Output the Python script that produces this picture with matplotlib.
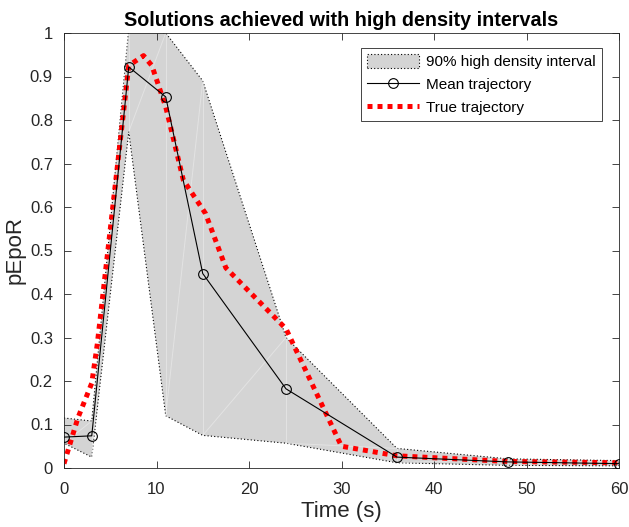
import matplotlib
matplotlib.use("Agg")
import matplotlib.pyplot as plt
from matplotlib.patches import Polygon
import numpy as np

plt.rcParams['font.family'] = ['Liberation Sans', 'DejaVu Sans']

# Measurement times and mean trajectory
t_mean = [0, 3, 7, 11, 15, 24, 36, 48, 60]
y_mean = [0.071, 0.074, 0.922, 0.853, 0.447, 0.182, 0.025, 0.014, 0.010]

# 90% high density interval bounds at the same times
hdi_upper = [0.115, 0.108, 1.010, 1.000, 0.890, 0.300, 0.045, 0.021, 0.017]
hdi_lower = [0.057, 0.025, 0.773, 0.120, 0.075, 0.057, 0.012, 0.006, 0.005]

# True trajectory
t_true = [0, 1.5, 3, 3.6, 7, 8.6, 9.5, 11, 12.9, 15.3, 17.5, 24, 30, 36, 48, 60]
y_true = [0.01, 0.115, 0.195, 0.285, 0.925, 0.948, 0.925, 0.830, 0.662, 0.585,
          0.460, 0.320, 0.050, 0.028, 0.015, 0.012]

x_ticks = [0, 10, 20, 30, 40, 50, 60]
y_ticks = [0, 0.1, 0.2, 0.3, 0.4, 0.5, 0.6, 0.7, 0.8, 0.9, 1]
y_tick_labels = ['0', '0.1', '0.2', '0.3', '0.4', '0.5', '0.6', '0.7', '0.8', '0.9', '1']

axis_col = (0.15, 0.15, 0.15)

fig = plt.figure(figsize=(6.29, 5.27), dpi=100)
ax = fig.add_axes([64 / 629, 1 - 468 / 527, 555 / 629, 435 / 527])

# Shaded interval polygon
verts = np.column_stack([t_mean + t_mean[::-1], hdi_upper + hdi_lower[::-1]])
band = Polygon(verts, closed=True, facecolor=(0.83, 0.83, 0.83),
               edgecolor='black', linestyle=(0, (1, 2)), linewidth=0.8,
               label='90% high density interval', zorder=1)
ax.add_patch(band)

# faint seams of the filled polygon, one pair per time step
for i in range(len(t_mean) - 1):
    ax.plot([t_mean[i], t_mean[i]], [hdi_lower[i], hdi_upper[i]],
            color='white', alpha=0.35, linewidth=0.7, zorder=1.1)
    ax.plot([t_mean[i], t_mean[i + 1]], [hdi_lower[i], hdi_upper[i + 1]],
            color='white', alpha=0.35, linewidth=0.7, zorder=1.1)

ax.plot(t_mean, y_mean, color='black', linewidth=0.8, marker='o',
        markersize=7, markerfacecolor='none', markeredgecolor='black',
        markeredgewidth=0.8, label='Mean trajectory', zorder=3)

ax.plot(t_true, y_true, color='red', linewidth=3.6, linestyle=(0, (1, 1)),
        label='True trajectory', zorder=2)

ax.set_xlim(0, 60)
ax.set_ylim(0, 1)
ax.set_xticks(x_ticks)
ax.set_yticks(y_ticks)
ax.set_yticklabels(y_tick_labels)
ax.tick_params(direction='in', top=True, right=True, length=5, width=0.6,
               colors=axis_col, labelsize=12, labelcolor=axis_col)
ax.tick_params(axis='x', pad=10)
ax.tick_params(axis='y', pad=8)
for s in ax.spines.values():
    s.set_color(axis_col)
    s.set_linewidth(0.6)

ax.set_xlabel('Time (s)', fontsize=16, color=axis_col, labelpad=3)
ax.set_ylabel('pEpoR', fontsize=16, color=axis_col, labelpad=3)
ax.set_title('Solutions achieved with high density intervals',
             fontsize=14.2, fontweight='bold', pad=5)

leg = ax.legend(loc='upper right', bbox_to_anchor=(1 - 17 / 555, 1 - 15 / 435),
                fontsize=11, frameon=True, fancybox=False, framealpha=1,
                edgecolor=axis_col, borderpad=0.4, handlelength=3.4,
                handleheight=1.0, handletextpad=0.45, labelspacing=0.5,
                borderaxespad=0)
leg.get_frame().set_linewidth(0.6)

fig.savefig('out.png', dpi=100)
